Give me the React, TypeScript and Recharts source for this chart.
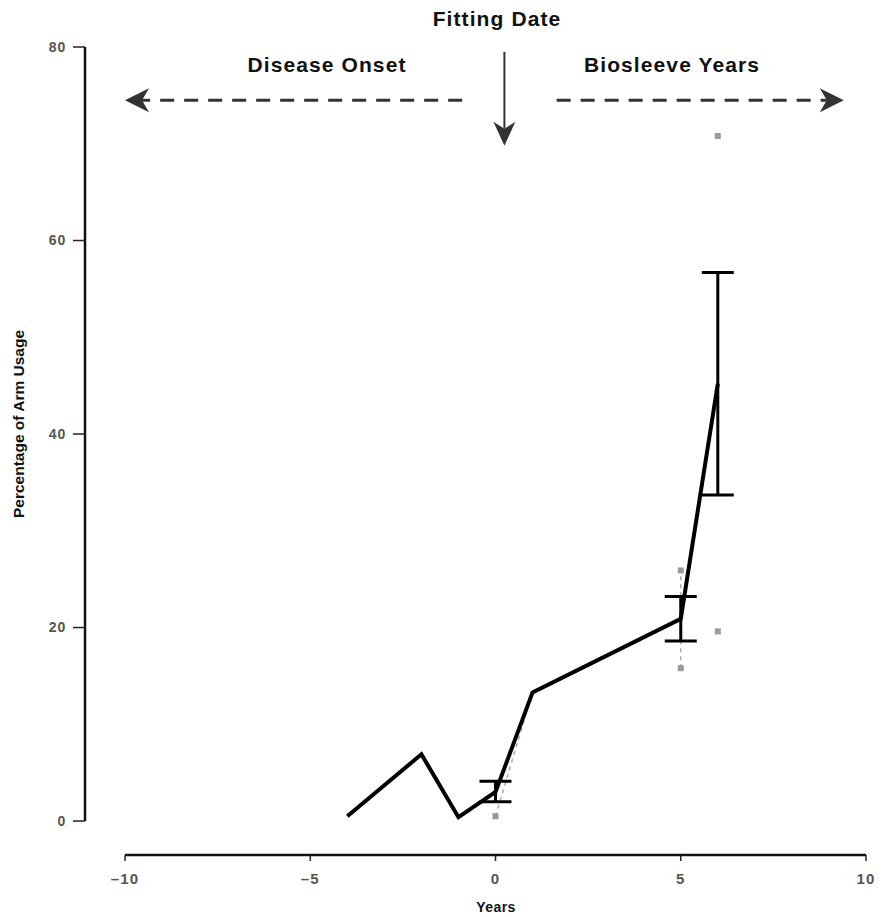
import React from 'react';
import { ComposedChart, Line, Scatter, XAxis, YAxis, ErrorBar, ReferenceLine } from 'recharts';

// mean arm usage per year relative to fitting date
const years = [-4, -2, -1, 0, 1, 5, 6];
const meanUsage = [0.5, 6.9, 0.4, 3.0, 13.3, 20.9, 45.2];
const errLow = [null, null, null, 1.0, null, 2.3, 11.5];
const errHigh = [null, null, null, 1.1, null, 2.3, 11.5];

// individual measurements (grey squares)
const subjectYears = [0, 5, 5, 6, 6];
const subjectUsage = [0.5, 25.9, 15.8, 70.8, 19.6];

// faint dashed trace (null breaks the line)
const traceYears = [0, 1, 3, 5, 5];
const traceUsage = [0.5, 13.3, null, 15.8, 25.9];

const xTicks = [-10, -5, 0, 5, 10];
const yTicks = [0, 20, 40, 60, 80];

const meanData = years.map((x, i) => ({
  x,
  y: meanUsage[i],
  err: errLow[i] == null ? undefined : [errLow[i], errHigh[i]],
}));
const subjectData = subjectYears.map((x, i) => ({ x, y: subjectUsage[i] }));
const traceData = traceYears.map((x, i) => ({ x, y: traceUsage[i] }));

const FONT = '"Liberation Sans", Arial, sans-serif';

const arrowShape = (dashed: boolean, headL: number, headW: number) => (props: any) => {
  const { x1, y1, x2, y2 } = props;
  const dx = x2 - x1;
  const dy = y2 - y1;
  const len = Math.hypot(dx, dy) || 1;
  const ux = dx / len;
  const uy = dy / len;
  const px = -uy;
  const py = ux;
  const notch = 7;
  const bx = x2 - ux * headL;
  const by = y2 - uy * headL;
  const nx = x2 - ux * (headL - notch);
  const ny = y2 - uy * (headL - notch);
  const pts = [
    [x2, y2],
    [bx + px * headW, by + py * headW],
    [nx, ny],
    [bx - px * headW, by - py * headW],
  ]
    .map((p) => p.join(','))
    .join(' ');
  return (
    <g>
      <line
        x1={x1}
        y1={y1}
        x2={nx}
        y2={ny}
        stroke="#333"
        strokeWidth={dashed ? 3 : 2}
        strokeDasharray={dashed ? '14 10' : undefined}
      />
      <polygon points={pts} fill="#333" />
    </g>
  );
};

const greySquare = (props: any) => {
  const { cx, cy } = props;
  return <rect x={cx - 3} y={cy - 3} width={6} height={6} fill="#9a9a9a" />;
};

const xFmt = (v: number) => (v < 0 ? '\u2013' + Math.abs(v) : String(v));

const titleStyle = { fontFamily: FONT, fontWeight: 700, fontSize: 21, fill: '#111', letterSpacing: 1.1 };

export default function App() {
  return (
    <div style={{ width: 878, height: 909 }}>
      <ComposedChart width={878} height={909} margin={{ top: 39, right: 20, bottom: 0, left: 0 }}>
        <XAxis
          type="number"
          dataKey="x"
          domain={[-11.08, 10]}
          allowDataOverflow
          ticks={xTicks}
          tickFormatter={xFmt}
          axisLine={false}
          tickLine={{ stroke: '#222', strokeWidth: 1.5 }}
          tickSize={6}
          tickMargin={12}
          height={62}
          tick={{ fill: '#555', fontSize: 15, fontWeight: 700, fontFamily: FONT, letterSpacing: 1.2 }}
        />
        <YAxis
          type="number"
          dataKey="y"
          domain={[-3.51, 80]}
          allowDataOverflow
          ticks={yTicks}
          axisLine={false}
          tickLine={{ stroke: '#222', strokeWidth: 1.5 }}
          tickSize={12}
          tickMargin={7}
          width={77}
          tick={{ fill: '#555', fontSize: 14, fontWeight: 700, fontFamily: FONT, letterSpacing: 0.8 }}
        />
        {/* offset axis lines */}
        <ReferenceLine
          segment={[{ x: -11.08, y: 0 }, { x: -11.08, y: 80 }]}
          stroke="#111"
          strokeWidth={2.5}
          ifOverflow="visible"
        />
        <ReferenceLine
          segment={[{ x: -10, y: -3.51 }, { x: 10, y: -3.51 }]}
          stroke="#111"
          strokeWidth={2.5}
          ifOverflow="visible"
        />
        {/* annotation arrows */}
        <ReferenceLine
          segment={[{ x: -0.9, y: 74.5 }, { x: -10, y: 74.5 }]}
          shape={arrowShape(true, 24, 12)}
          ifOverflow="visible"
        />
        <ReferenceLine
          segment={[{ x: 1.65, y: 74.5 }, { x: 9.4, y: 74.5 }]}
          shape={arrowShape(true, 24, 12)}
          ifOverflow="visible"
        />
        <ReferenceLine
          segment={[{ x: 0.24, y: 79.5 }, { x: 0.24, y: 69.8 }]}
          shape={arrowShape(false, 24, 11)}
          ifOverflow="visible"
        />
        <Line
          data={traceData}
          dataKey="y"
          stroke="#aaa"
          strokeWidth={1.5}
          strokeDasharray="4 4"
          dot={false}
          connectNulls={false}
          isAnimationActive={false}
        />
        <Scatter data={subjectData} dataKey="y" shape={greySquare} isAnimationActive={false} />
        <Line
          data={meanData}
          dataKey="y"
          stroke="#000"
          strokeWidth={4}
          dot={false}
          type="linear"
          isAnimationActive={false}
        >
          <ErrorBar dataKey="err" direction="y" width={16} stroke="#000" strokeWidth={3} isAnimationActive={false} />
        </Line>
        <text x={489} y={18} textAnchor="middle" {...titleStyle}>
          Fitting Date
        </text>
        <text x={319} y={64} textAnchor="middle" {...titleStyle}>
          Disease Onset
        </text>
        <text x={664} y={64} textAnchor="middle" {...titleStyle}>
          Biosleeve Years
        </text>
        <text x={488} y={904} textAnchor="middle" fontFamily={FONT} fontWeight={700} fontSize={14} fill="#111" letterSpacing={0.4}>
          Years
        </text>
        <text
          x={10}
          y={416}
          textAnchor="middle"
          dominantBaseline="central"
          transform="rotate(-90 10 416)"
          fontFamily={FONT}
          fontWeight={700}
          fontSize={15.5}
          fill="#111"
        >
          Percentage of Arm Usage
        </text>
      </ComposedChart>
    </div>
  );
}
